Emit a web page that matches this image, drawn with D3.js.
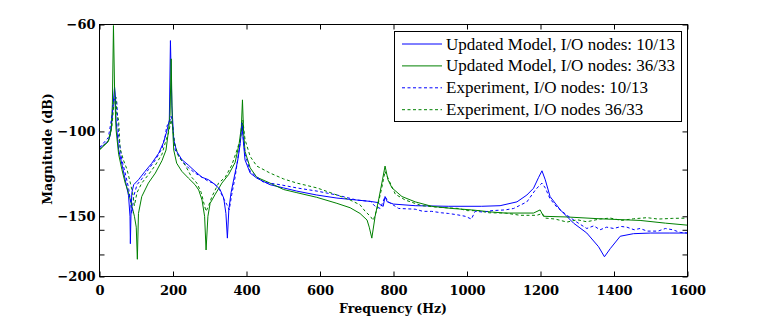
<!DOCTYPE html>
<html><head><meta charset="utf-8">
<script src="https://cdn.jsdelivr.net/npm/d3@7"></script>
<style>body{margin:0;background:#fff}svg{display:block}</style>
</head><body><svg id="c" width="760" height="322"></svg>
<script>
// ---- data ----
const xTickValues = [0,200,400,600,800,1000,1200,1400,1600];
const yTickValues = [-60,-100,-120,-150,-160,-180,-200];
const yTickLabels = ["-60","-100","","-150","","","-200"];
const seriesNames = ["Updated Model, I/O nodes: 10/13","Updated Model, I/O nodes: 36/33","Experiment, I/O nodes: 10/13","Experiment, I/O nodes 36/33"];

const modelA_f = [0,24,29,34,37,41,43,45,52,61,70,79,83,84,86,88,93,106,124,142,161,174,183,190,193,197,202,210,224,242,260,279,297,315,328,338,344,348,352,358,366,376,383,388,391,396,410,428,464,501,537,591,646,700,737,758,764,772,777,783,800,859,949,1040,1090,1136,1163,1181,1195,1204,1213,1226,1254,1290,1326,1358,1374,1390,1417,1453,1500,1550,1600];
const modelA_m = [-108.7,-104.5,-102,-94.7,-88,-81,-84,-94.7,-109,-117,-126,-136,-150,-171,-145,-134,-129,-126,-121,-116.5,-111,-105.5,-100,-94.7,-64.8,-88.5,-104,-110,-114.4,-117.5,-121,-124.5,-126,-129,-132,-137.5,-148,-166.5,-145,-134,-125,-115,-106,-96,-104,-114.6,-122,-125,-129,-131,-133,-135.5,-137.5,-138.8,-139.7,-140.5,-142,-143,-136.5,-140,-141.5,-142.6,-143,-143,-142.6,-140,-135.5,-131.2,-124.5,-120.7,-126,-136.5,-145.5,-155,-162.5,-173.5,-182,-175,-165,-163,-162.5,-162.5,-162.5];

const modelB_f = [0,24,32,35,38,41,45,52,61,70,79,88,95,100,103,106,115,133,152,170,181,188,192,195,198,202,210,224,242,260,270,279,286,290,295,301,315,333,351,369,380,386,389,392,396,410,428,464,501,537,591,646,682,709,728,734,741,750,760,770,777,785,796,823,859,904,959,1013,1068,1104,1181,1199,1208,1272,1362,1471,1540,1600];
const modelB_m = [-109.2,-105,-99.3,-88,-60.3,-81.4,-99,-111.5,-120,-128,-134,-142.6,-150,-158,-184.2,-148,-136.5,-128,-122,-115,-109.3,-99.3,-92,-70.7,-94.7,-109.3,-116.4,-121,-125,-129,-132.3,-138.8,-150,-176.2,-150,-141,-135,-128,-123,-116,-106,-98,-86,-100,-110,-119,-124.5,-128,-132,-134,-137,-141,-144,-148,-152.7,-158,-166.5,-150,-138,-126,-118,-126,-131,-136.5,-140,-143,-144.5,-145.5,-147,-147.7,-147.7,-145.5,-150,-150.5,-151.8,-153,-155,-156.5];

const expA_f = [0,24,34,38,43,47,52,61,70,79,84,88,93,102,115,133,152,170,179,183,190,195,199,206,224,242,260,279,297,310,324,338,347,353,360,369,377,383,387,391,396,410,446,492,537,592,646,700,737,750,764,777,786,814,859,880,904,930,950,975,995,1012,1022,1045,1068,1104,1127,1163,1186,1195,1204,1213,1226,1245,1272,1299,1326,1345,1362,1380,1399,1420,1435,1455,1471,1490,1520,1540,1560,1580,1600];
const expA_m = [-108,-103,-93,-87,-84.6,-86.7,-102.5,-114.6,-122,-131,-138.8,-148,-136.5,-129,-125.5,-120,-114.6,-108.5,-102,-97.5,-96,-93,-97.5,-109.3,-115,-119,-122,-124.5,-127,-128,-131,-138,-142,-145.5,-135,-124.5,-113,-105,-96,-103,-111.5,-121,-127.5,-129,-131,-133,-135.5,-138.8,-139.7,-143,-144.5,-136.5,-140,-144.5,-145,-146.5,-146.5,-147.5,-148,-149,-150,-152,-146.5,-147,-146,-145.5,-144.5,-140,-132.3,-130,-128,-131,-138,-143.7,-149.3,-154.3,-159,-157,-160,-158,-159,-157.5,-158,-160,-159,-161,-161,-159,-160,-162,-162.5];

const expB_f = [0,24,34,40,45,47,52,56,65,75,84,90,95,102,115,133,152,170,179,188,195,199,204,215,233,251,265,277,283,290,297,306,324,342,360,374,383,390,396,410,428,464,501,537,592,646,682,709,723,737,745,755,768,777,786,805,832,877,922,977,1000,1031,1060,1104,1145,1190,1205,1213,1240,1272,1300,1326,1360,1390,1420,1453,1490,1520,1560,1600];
const expB_m = [-109.2,-104.5,-97.5,-86,-85,-92,-94.7,-108.5,-114.6,-120,-128,-134,-142.6,-134,-128,-123,-117.5,-111.5,-105.5,-100.5,-94.7,-97.5,-105.5,-112.7,-117.5,-124.5,-128,-134,-140,-146.5,-142.6,-136.5,-128,-124.5,-117.5,-109.3,-104,-94.7,-104,-112.7,-118,-122,-125.5,-128,-131,-135.5,-138.8,-142,-146.5,-150,-153,-145,-131,-121,-125.5,-135,-138.8,-142.6,-143.7,-144.5,-146,-146,-147.5,-147.7,-149.3,-149.3,-148,-151.3,-152,-154.2,-152.5,-154,-152,-151.3,-153,-151.8,-151,-152,-151.5,-151.3];

// ---- chart ----
const svg = d3.select("#c");
const L = 99.5, R = 687.5, T = 24.5, B = 276.5;
const x = d3.scaleLinear().domain([0,1600]).range([L,R]);
const yl = d3.scaleLog().domain([60,200]).range([T,B]);
const y = v => yl(-v);

svg.append("clipPath").attr("id","clip").append("rect")
  .attr("x",L).attr("y",T).attr("width",R-L).attr("height",B-T);

const series = [
  {f:modelA_f, m:modelA_m, color:"#0000ff", dash:null},
  {f:modelB_f, m:modelB_m, color:"#008000", dash:null},
  {f:expA_f, m:expA_m, color:"#0000ff", dash:"3,2.5"},
  {f:expB_f, m:expB_m, color:"#008000", dash:"3,2.5"}
];
const line = d3.line().x(d=>x(d[0])).y(d=>y(d[1]));
const g = svg.append("g").attr("clip-path","url(#clip)");
series.forEach(s=>{
  const pts = s.f.map((f,i)=>[f,s.m[i]]);
  g.append("path").attr("d",line(pts)).attr("fill","none")
   .attr("stroke",s.color).attr("stroke-width",1)
   .attr("stroke-dasharray",s.dash);
});

// axes
const yAxisScale = d3.scaleLog().domain([60,200]).range([T,B]);
const tickFont = "bold 13px 'DejaVu Serif'";
const labelMap = {};
yTickValues.forEach((v,i)=>labelMap[-v]=yTickLabels[i]);
const ax = [
  svg.append("g").attr("transform",`translate(${L},0)`).call(d3.axisLeft(yAxisScale).tickValues(yTickValues.map(v=>-v)).tickSizeInner(-5).tickSizeOuter(0).tickPadding(4).tickFormat(d=>labelMap[d].replace("-","\u2212"))),
  svg.append("g").attr("transform",`translate(${R},0)`).call(d3.axisRight(yAxisScale).tickValues(yTickValues.map(v=>-v)).tickSizeInner(-5).tickSizeOuter(0).tickFormat("")),
  svg.append("g").attr("transform",`translate(0,${B})`).call(d3.axisBottom(x).tickValues(xTickValues).tickSizeInner(-5).tickSizeOuter(0).tickPadding(9).tickFormat(d3.format("d"))),
  svg.append("g").attr("transform",`translate(0,${T})`).call(d3.axisTop(x).tickValues(xTickValues).tickSizeInner(-5).tickSizeOuter(0).tickFormat(""))
];
ax.forEach(a=>{
  a.select(".domain").remove();
  a.selectAll("line").attr("stroke","#000");
  a.selectAll("text").attr("fill","#000").style("font",tickFont);
});
svg.append("rect").attr("x",L).attr("y",T).attr("width",R-L).attr("height",B-T)
  .attr("fill","none").attr("stroke","#000").attr("stroke-width",1);

svg.append("text").attr("x",393).attr("y",313).attr("text-anchor","middle")
  .style("font","bold 12.5px 'DejaVu Serif'").text("Frequency (Hz)");
svg.append("text").attr("transform","translate(52,149) rotate(-90)").attr("text-anchor","middle")
  .style("font","bold 12.5px 'DejaVu Serif'").text("Magnitude (dB)");

// legend
const lg = svg.append("g");
lg.append("rect").attr("x",394.5).attr("y",31.5).attr("width",287).attr("height",90)
  .attr("fill","#fff").attr("stroke","#000").attr("stroke-width",1);
series.forEach((s,i)=>{
  const by = 49.5 + i*21.9;
  lg.append("line").attr("x1",402).attr("x2",442).attr("y1",by-5.5).attr("y2",by-5.5)
    .attr("stroke",s.color).attr("stroke-width",1).attr("stroke-dasharray",s.dash);
  lg.append("text").attr("x",446).attr("y",by)
    .style("font","17px 'Liberation Serif'").attr("fill","#000").text(seriesNames[i]);
});
</script></body></html>
